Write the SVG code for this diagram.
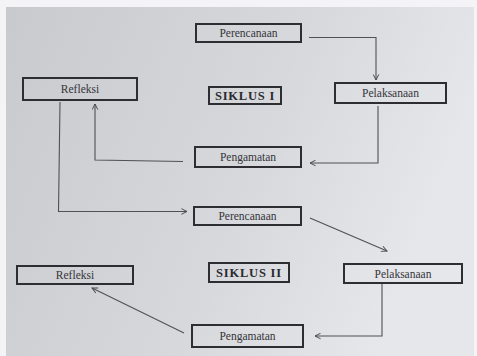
<svg xmlns="http://www.w3.org/2000/svg" width="477" height="356" viewBox="0 0 477 356">
<defs>
<linearGradient id="paper" x1="0" y1="0" x2="1" y2="0.3">
<stop offset="0" stop-color="#c9cace"/>
<stop offset="0.6" stop-color="#d7d8dc"/>
<stop offset="1" stop-color="#e6e7ea"/>
</linearGradient>
<marker id="arr" viewBox="0 0 10 10" refX="9" refY="5" markerWidth="7" markerHeight="7" markerUnits="userSpaceOnUse" orient="auto">
<path d="M1,1 L9,5 L1,9" fill="none" stroke="#4a4a4e" stroke-width="1.4"/>
</marker>
<style>
.box{fill:none;stroke:#2e2e32;stroke-width:2}
.lbl{font-family:"Liberation Serif","Times New Roman",serif;font-size:11.5px;fill:#353539;text-anchor:middle}
.title{font-family:"Liberation Serif","Times New Roman",serif;font-size:12.5px;font-weight:bold;fill:#2a2a2e;text-anchor:middle;letter-spacing:0.8px}
.con{fill:none;stroke:#505055;stroke-width:1.1;marker-end:url(#arr)}
</style>
</defs>
<rect width="477" height="356" fill="#f4f4f6"/>
<rect x="6" y="7" width="468" height="349" fill="url(#paper)"/>

<g id="perencanaan1"><rect class="box" x="196" y="24" width="105" height="18"/><text class="lbl" x="248.5" y="37">Perencanaan</text></g>
<g id="refleksi1"><rect class="box" x="23" y="78" width="114" height="22"/><text class="lbl" x="80" y="93">Refleksi</text></g>
<g id="siklus1"><rect class="box" x="209" y="87" width="72" height="17"/><text class="title" x="245" y="100">SIKLUS I</text></g>
<g id="pelaksanaan1"><rect class="box" x="335" y="83" width="111" height="20"/><text class="lbl" x="390.5" y="97">Pelaksanaan</text></g>
<g id="pengamatan1"><rect class="box" x="195" y="147" width="106" height="20"/><text class="lbl" x="248" y="161">Pengamatan</text></g>

<g id="perencanaan2"><rect class="box" x="194" y="207" width="107" height="18"/><text class="lbl" x="247.5" y="220">Perencanaan</text></g>
<g id="refleksi2"><rect class="box" x="17" y="266" width="116" height="18"/><text class="lbl" x="75" y="279">Refleksi</text></g>
<g id="siklus2"><rect class="box" x="209" y="263" width="80" height="19"/><text class="title" x="249" y="277">SIKLUS II</text></g>
<g id="pelaksanaan2"><rect class="box" x="344" y="264" width="118" height="19"/><text class="lbl" x="403" y="278">Pelaksanaan</text></g>
<g id="pengamatan2"><rect class="box" x="192" y="325" width="111" height="22"/><text class="lbl" x="247.5" y="340">Pengamatan</text></g>

<g id="connectors">
<polyline class="con" points="309,37.5 376,37.5 376,80"/>
<polyline class="con" points="378,106 378,163 310,163"/>
<polyline class="con" points="183,161.5 95,160 95,104"/>
<polyline class="con" points="60,102 58.5,211.5 187,211.5"/>
<polyline class="con" points="310,218 387,251"/>
<polyline class="con" points="382,284 382,336 315,336"/>
<polyline class="con" points="184,333 92,288"/>
</g>
</svg>
